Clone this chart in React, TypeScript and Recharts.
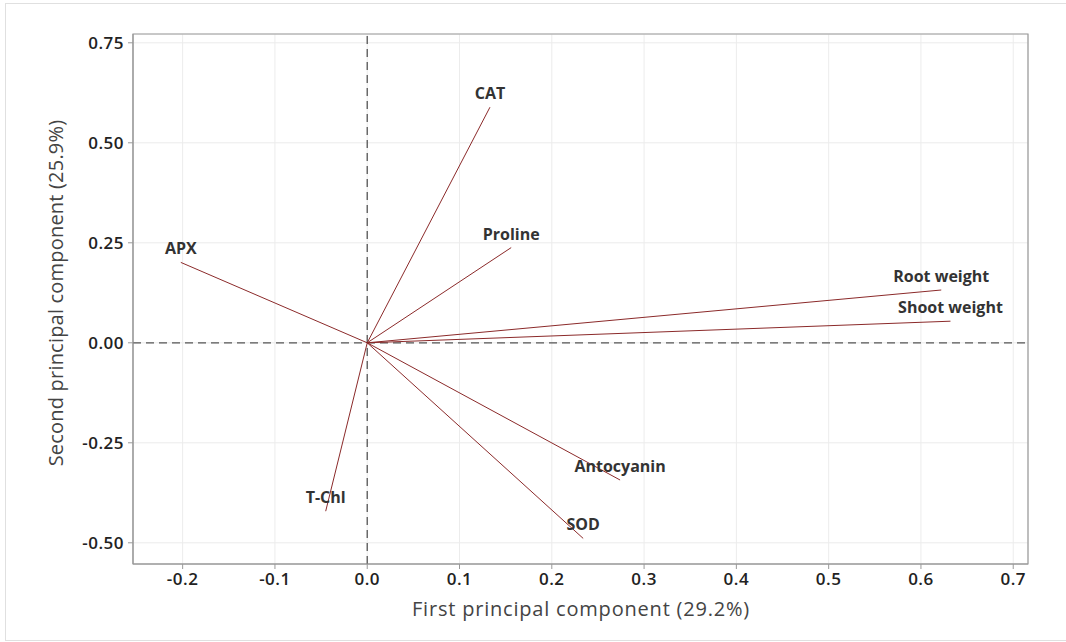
import {
  ScatterChart,
  Scatter,
  XAxis,
  YAxis,
  CartesianGrid,
  ReferenceLine,
  ReferenceArea,
} from 'recharts';

// PCA loadings (PC1, PC2)
const variables = ['CAT', 'Proline', 'APX', 'Root weight', 'Shoot weight', 'Antocyanin', 'SOD', 'T-Chl'];
const pc1 = [0.133, 0.156, -0.202, 0.622, 0.632, 0.274, 0.234, -0.045];
const pc2 = [0.589, 0.238, 0.201, 0.132, 0.054, -0.343, -0.489, -0.421];

const xTicks = [-0.2, -0.1, 0.0, 0.1, 0.2, 0.3, 0.4, 0.5, 0.6, 0.7];
const yTicks = [-0.5, -0.25, 0, 0.25, 0.5, 0.75];

const X_DOMAIN: [number, number] = [-0.2538, 0.716];
const Y_DOMAIN: [number, number] = [-0.553, 0.772];

const LINE = '#8b2a2a';
const FONT = '"Open Sans", "DejaVu Sans", sans-serif';

const points = variables.map((name, i) => ({ name, x: pc1[i], y: pc2[i] }));

const VarLabel = (props: any) => {
  const { cx, cy, payload } = props;
  return (
    <text
      x={cx}
      y={cy - 8}
      textAnchor="middle"
      fontFamily={FONT}
      fontWeight={700}
      fontSize={16}
      fill="#333"
    >
      {payload.name}
    </text>
  );
};

const tickStyle = {
  fill: '#222',
  fontSize: 17,
  fontWeight: 600,
  fontFamily: FONT,
  letterSpacing: 0.5,
};

export default function App() {
  return (
    <div style={{ position: 'absolute', left: 0, top: 0, width: 1066, height: 642, background: '#fff', overflow: 'hidden' }}>
      <div
        style={{
          position: 'absolute',
          left: 5,
          top: 3,
          width: 1070,
          height: 636,
          border: '1px solid #e0e0e0',
        }}
      />
      <ScatterChart
        width={1066}
        height={642}
        margin={{ top: 34, right: 38, left: 0, bottom: 0 }}
        style={{ position: 'absolute', left: 0, top: 0, fontFamily: FONT }}
      >
        <CartesianGrid stroke="#ececec" strokeWidth={1} />
        <XAxis
          type="number"
          dataKey="x"
          domain={X_DOMAIN}
          ticks={xTicks}
          allowDataOverflow
          height={78}
          tickFormatter={(v: number) => v.toFixed(1)}
          tick={tickStyle}
          tickSize={5}
          tickMargin={4}
          stroke="#999"
          label={() => (
            <text
              x={581}
              y={616}
              textAnchor="middle"
              fontFamily={FONT}
              fontSize={20}
              letterSpacing={0.8}
              fill="#444"
            >
              First principal component (29.2%)
            </text>
          )}
        />
        <YAxis
          type="number"
          dataKey="y"
          domain={Y_DOMAIN}
          ticks={yTicks}
          allowDataOverflow
          width={133}
          tickFormatter={(v: number) => v.toFixed(2)}
          tick={tickStyle}
          tickSize={5}
          tickMargin={4}
          stroke="#999"
          label={() => (
            <text
              x={63}
              y={293}
              transform="rotate(-90 63 293)"
              textAnchor="middle"
              fontFamily={FONT}
              fontSize={20}
              letterSpacing={0.2}
              fill="#444"
            >
              Second principal component (25.9%)
            </text>
          )}
        />
        <ReferenceArea
          x1={X_DOMAIN[0]}
          x2={X_DOMAIN[1]}
          y1={Y_DOMAIN[0]}
          y2={Y_DOMAIN[1]}
          fill="none"
          stroke="#999"
          strokeWidth={1.2}
        />
        <ReferenceLine x={0} stroke="#555" strokeWidth={1.3} strokeDasharray="8 5" />
        <ReferenceLine y={0} stroke="#555" strokeWidth={1.3} strokeDasharray="8 5" />
        {points.map((p) => (
          <ReferenceLine
            key={p.name}
            segment={[
              { x: 0, y: 0 },
              { x: p.x, y: p.y },
            ]}
            stroke={LINE}
            strokeWidth={1}
          />
        ))}
        <Scatter data={points} shape={VarLabel} isAnimationActive={false} />
      </ScatterChart>
    </div>
  );
}
